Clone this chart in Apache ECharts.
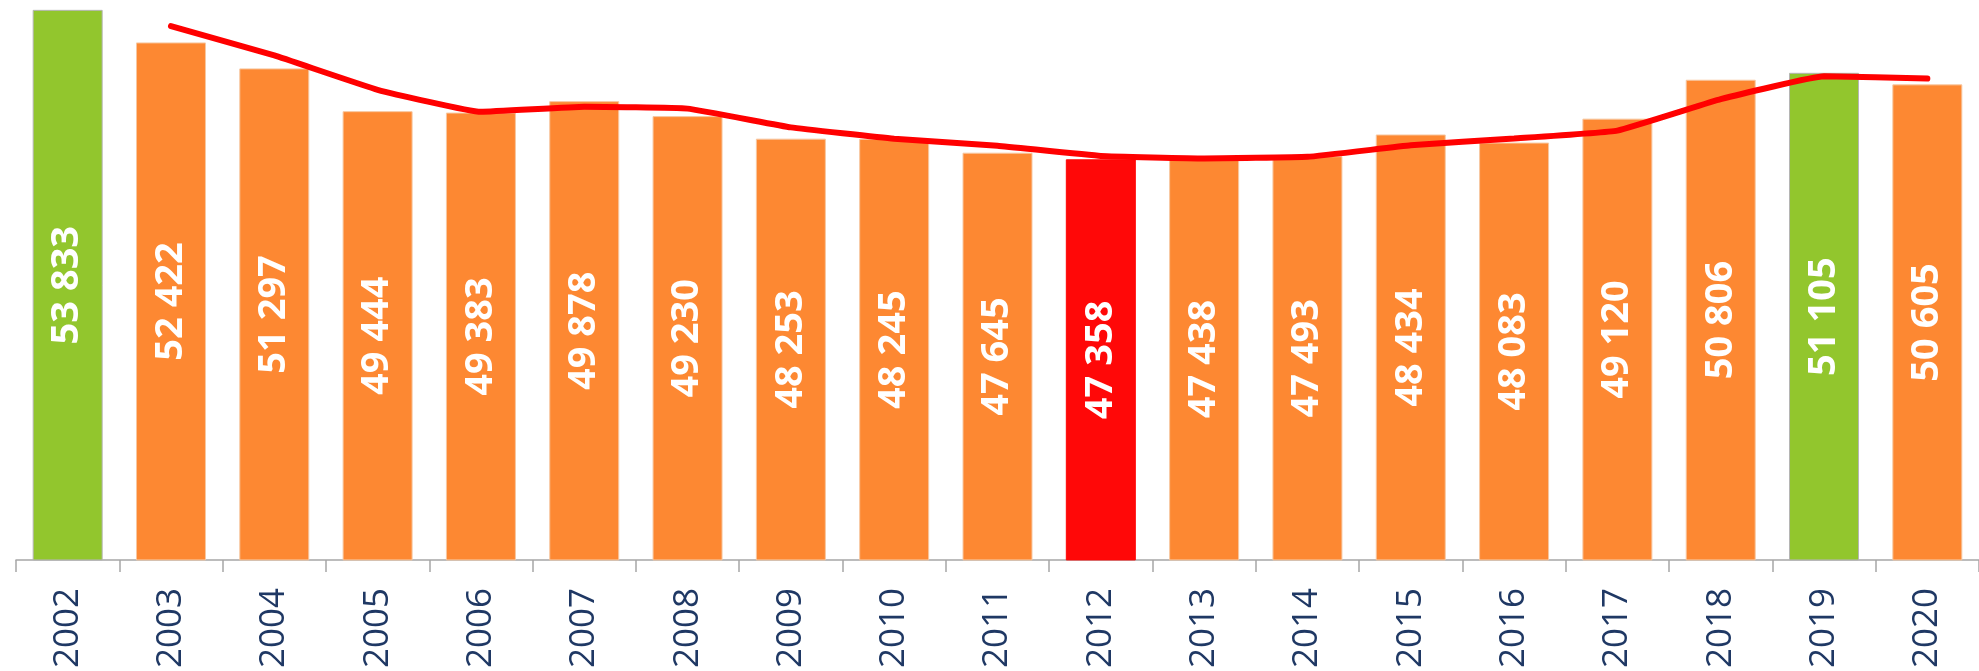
<!DOCTYPE html>
<html>
	<head>
		<meta charset="UTF-8">
		<title></title>
		<script src="https://cdn.jsdelivr.net/npm/echarts@6/dist/echarts.min.js"></script>
		<style type="text/css">
			html, body{
				margin: 0;
				padding: 0;
				background: #fff;
			}
			#chart{
				width: 1979px;
				height: 671px;
			}
		</style>
	</head>
	<body>
		<div id="chart"></div>
		<script>
		// years on the x axis
		var years = ['2002','2003','2004','2005','2006','2007','2008','2009','2010','2011',
			'2012','2013','2014','2015','2016','2017','2018','2019','2020'];
		// yearly values (bars)
		var counts = [53833, 52422, 51297, 49444, 49383, 49878, 49230, 48253, 48245, 47645,
			47358, 47438, 47493, 48434, 48083, 49120, 50806, 51105, 50605];
		// red trend line (2-year average)
		var trend = ['-', 53127.5, 51859.5, 50370.5, 49413.5, 49630.5, 49554, 48741.5, 48249, 47945,
			47501.5, 47398, 47465.5, 47963.5, 48258.5, 48601.5, 49963, 50955.5, 50855];
		// highlighted years
		var greenYears = ['2002', '2019'];
		var redYears = ['2012'];

		var myChart = echarts.init(document.getElementById('chart'));

		var barData = [];
		for (var i = 0; i < years.length; i++) {
			var c = '#FD8832', b = '#F7C8A2';
			if (greenYears.indexOf(years[i]) >= 0) { c = '#92C62D'; b = '#B5B5B5'; }
			if (redYears.indexOf(years[i]) >= 0) { c = '#FF0808'; b = '#FF0808'; }
			barData.push({
				value: counts[i],
				itemStyle: { color: c, borderColor: b, borderWidth: 1 }
			});
		}

		var option = {
			animation: false,
			grid: {
				left: 16,
				right: 0,
				top: 6,
				bottom: 108
			},
			xAxis: {
				type: 'category',
				data: years,
				axisLine: { show: true, lineStyle: { color: '#A6A6A6', width: 1.5 } },
				axisTick: {
					show: true,
					alignWithLabel: false,
					interval: 0,
					length: 12,
					lineStyle: { color: '#A6A6A6', width: 1.5 }
				},
				axisLabel: {
					rotate: 90,
					margin: 28,
					interval: 0,
					color: '#1F3864',
					fontSize: 35,
					fontFamily: 'Open Sans'
				}
			},
			yAxis: {
				type: 'value',
				show: false,
				min: 30000,
				max: 54000,
				splitLine: { show: false }
			},
			series: [
				{
					name: 'count',
					type: 'bar',
					barWidth: 70,
					data: barData,
					label: {
						show: true,
						position: 'inside',
						rotate: 90,
						color: '#fff',
						fontSize: 38,
						fontWeight: 'bold',
						fontFamily: 'Open Sans',
						formatter: function (p) {
							return String(p.value).replace(/\B(?=(\d{3})+(?!\d))/g, ' ');
						}
					}
				},
				{
					name: 'trend',
					type: 'line',
					data: trend,
					smooth: 0.1,
					showSymbol: false,
					lineStyle: { color: '#FF0000', width: 6, cap: 'round' },
					z: 5
				}
			]
		};
		myChart.setOption(option);
		</script>
	</body>
</html>
